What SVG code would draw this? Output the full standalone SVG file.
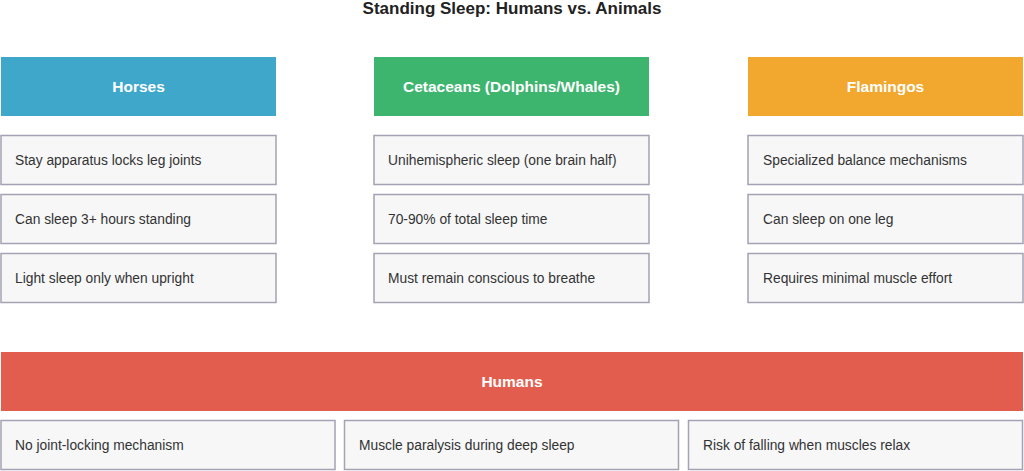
<svg xmlns="http://www.w3.org/2000/svg" width="1024" height="471" viewBox="0 0 1024 471">
<style>
.bg{fill:#ffffff}
.title{font-family:"Liberation Sans",Arial,sans-serif;font-size:17px;font-weight:bold;fill:#222222;text-anchor:middle}
.hdr text{font-family:"Liberation Sans",Arial,sans-serif;font-size:15.5px;font-weight:bold;fill:#ffffff;text-anchor:middle;dominant-baseline:central}
.item rect{fill:#f7f7f8;stroke:#a3a3b3;stroke-width:1.5}
.item text{font-family:"Liberation Sans",Arial,sans-serif;font-size:13.8px;fill:#333333;dominant-baseline:central}
</style>
<rect class="bg" x="0" y="0" width="1024" height="471"/>
<text class="title" x="512" y="14">Standing Sleep: Humans vs. Animals</text>

<g id="horses" class="hdr"><rect x="1" y="57" width="275" height="59" fill="#3fa8ca"/><text x="138.5" y="86.5">Horses</text></g>
<g id="horses-1" class="item"><rect x="1" y="135.5" width="275" height="49"/><text x="15" y="160.5">Stay apparatus locks leg joints</text></g>
<g id="horses-2" class="item"><rect x="1" y="194.5" width="275" height="49"/><text x="15" y="219.5">Can sleep 3+ hours standing</text></g>
<g id="horses-3" class="item"><rect x="1" y="253.5" width="275" height="49"/><text x="15" y="278.5">Light sleep only when upright</text></g>

<g id="cetaceans" class="hdr"><rect x="374" y="57" width="275" height="59" fill="#3db56f"/><text x="511.5" y="86.5">Cetaceans (Dolphins/Whales)</text></g>
<g id="cetaceans-1" class="item"><rect x="374" y="135.5" width="275" height="49"/><text x="388" y="160.5">Unihemispheric sleep (one brain half)</text></g>
<g id="cetaceans-2" class="item"><rect x="374" y="194.5" width="275" height="49"/><text x="388" y="219.5">70-90% of total sleep time</text></g>
<g id="cetaceans-3" class="item"><rect x="374" y="253.5" width="275" height="49"/><text x="388" y="278.5">Must remain conscious to breathe</text></g>

<g id="flamingos" class="hdr"><rect x="748" y="57" width="275" height="59" fill="#f2a72e"/><text x="885.5" y="86.5">Flamingos</text></g>
<g id="flamingos-1" class="item"><rect x="748" y="135.5" width="275" height="49"/><text x="763" y="160.5">Specialized balance mechanisms</text></g>
<g id="flamingos-2" class="item"><rect x="748" y="194.5" width="275" height="49"/><text x="763" y="219.5">Can sleep on one leg</text></g>
<g id="flamingos-3" class="item"><rect x="748" y="253.5" width="275" height="49"/><text x="763" y="278.5">Requires minimal muscle effort</text></g>

<g id="humans" class="hdr"><rect x="1" y="352" width="1022" height="59" fill="#e35d4e"/><text x="512" y="381.5">Humans</text></g>
<g id="humans-1" class="item"><rect x="1" y="420.5" width="334" height="49"/><text x="15" y="445.5">No joint-locking mechanism</text></g>
<g id="humans-2" class="item"><rect x="344.5" y="420.5" width="334" height="49"/><text x="359" y="445.5">Muscle paralysis during deep sleep</text></g>
<g id="humans-3" class="item"><rect x="688.5" y="420.5" width="334" height="49"/><text x="703" y="445.5">Risk of falling when muscles relax</text></g>

<g id="connectors"></g>
</svg>
